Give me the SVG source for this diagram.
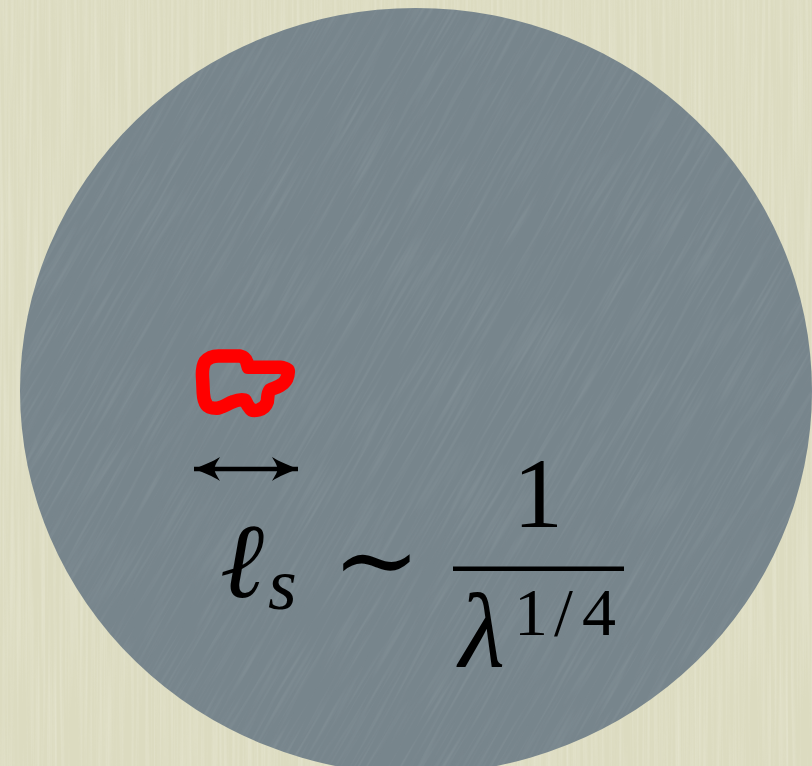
<svg xmlns="http://www.w3.org/2000/svg" width="812" height="766" viewBox="0 0 812 766">
  <style>
    .math { font-family: "Liberation Serif", "DejaVu Serif", serif; fill: #000; }
    .it { font-style: italic; }
  </style>
  <defs>
    <filter id="vstreak" x="0" y="0" width="100%" height="100%">
      <feTurbulence type="fractalNoise" baseFrequency="0.35 0.006" numOctaves="2" seed="3"/>
      <feColorMatrix type="matrix" values="0 0 0 0 1  0 0 0 0 1  0 0 0 0 0.95  1.2 0 0 0 -0.45"/>
    </filter>
    <filter id="dstreak" x="0" y="0" width="100%" height="100%">
      <feTurbulence type="fractalNoise" baseFrequency="0.3 0.012" numOctaves="2" seed="7"/>
      <feColorMatrix type="matrix" values="0 0 0 0 0.75  0 0 0 0 0.8  0 0 0 0 0.82  1.0 0 0 0 -0.45"/>
    </filter>
    <clipPath id="diskClip">
      <ellipse cx="416" cy="391" rx="396" ry="383"/>
    </clipPath>
    <marker id="head" viewBox="0 0 24 24" refX="24" refY="12" markerWidth="26" markerHeight="26" markerUnits="userSpaceOnUse" orient="auto-start-reverse">
      <path d="M24,12 C16,9 6,5 0,1 C3,6 5,9 5,12 C5,15 3,18 0,23 C6,19 16,15 24,12 Z" fill="#000"/>
    </marker>
  </defs>

  <g id="background">
    <rect x="0" y="0" width="812" height="766" fill="#dcdbc0"/>
    <rect x="0" y="0" width="812" height="766" filter="url(#vstreak)" opacity="0.35"/>
  </g>

  <g id="disk">
    <ellipse cx="416" cy="391" rx="396" ry="383" fill="#77858c"/>
    <g clip-path="url(#diskClip)" opacity="0.22">
      <g transform="rotate(30 416 391)">
        <rect x="-200" y="-230" width="1232" height="1242" filter="url(#dstreak)"/>
      </g>
    </g>
  </g>

  <g id="blob">
    <path d="M202.7,380 C202,372 203,365 205,361.7 C209,357 213,356 218.3,356 L240,356 C244,357 246,359 246.7,361.7 L248.3,367.3 L280,367.3 C285,368 288.5,369 288.3,371.7 C288,377 286,381 283.3,383.3 C279,387 274,388 270,390 C267,394 268,398 267.3,401.7 C266,406 262,409 258.3,410 C254,411 251,410 250,408.3 C247,405 246,402 245,400 C240,399 237,400 233.3,401.7 C227,404 222,408 216.7,408.3 C211,408 208,407 206.7,405 C204,401 203.5,397 203.3,393.3 Z" fill="none" stroke="#ff0000" stroke-width="13.5" stroke-linejoin="round"/>
  </g>

  <g id="connectors">
    <line x1="194" y1="469" x2="298" y2="469" stroke="#000" stroke-width="4.5" marker-start="url(#head)" marker-end="url(#head)"/>
  </g>

  <g id="formula">
    <text class="math it" x="220" y="597" font-size="106">ℓ</text>
    <text class="math it" x="268" y="609" font-size="74">s</text>
    <text class="math" x="332" y="596" font-size="106">∼</text>
    <text class="math" x="538" y="527" font-size="100" text-anchor="middle">1</text>
    <rect x="453" y="566.5" width="171" height="4.5" fill="#000"/>
    <text class="math it" x="459" y="666" font-size="106">λ</text>
    <text class="math" x="514" y="635" font-size="68"><tspan>1</tspan><tspan dx="6">/</tspan><tspan dx="9">4</tspan></text>
  </g>
</svg>
